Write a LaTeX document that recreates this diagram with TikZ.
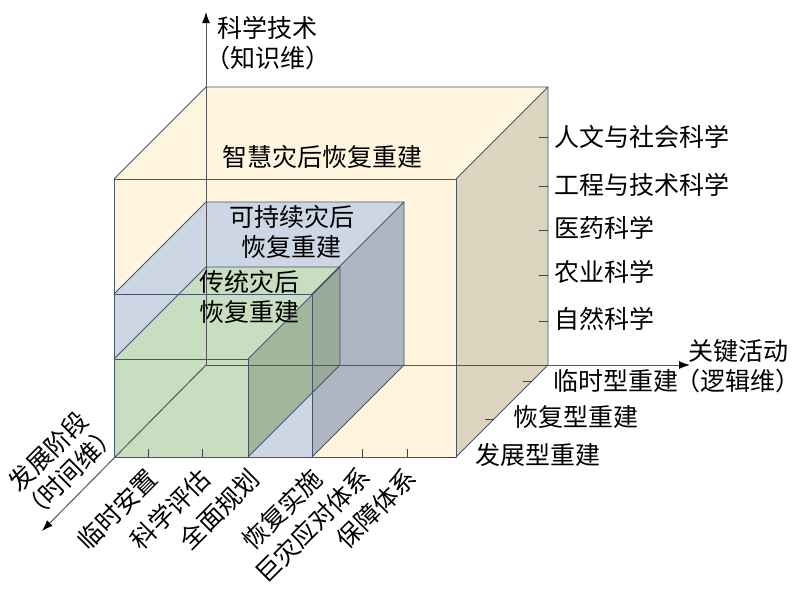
\documentclass[tikz,border=0pt]{standalone}
\usepackage{fontspec}
\setmainfont{Noto Sans CJK SC}
\usetikzlibrary{arrows.meta}
\definecolor{cream}{HTML}{FFF5DF}
\definecolor{tan}{HTML}{DBD5C0}
\definecolor{lblue}{HTML}{CDD6E5}
\definecolor{gblue}{HTML}{AFB6C2}
\definecolor{lgreen}{HTML}{C8DEC1}
\definecolor{dgreen}{HTML}{A3B59A}
\definecolor{mixgreen}{HTML}{99A99A}
\definecolor{edgec}{HTML}{44546A}
\definecolor{axisc}{HTML}{555555}
\definecolor{tickc}{HTML}{404040}
\begin{document}
\begin{tikzpicture}[x=1pt,y=-1pt,
  edge/.style={draw=edgec, line width=0.8pt, line join=round},
  axisline/.style={draw=axisc, line width=1pt, -{Latex[length=11pt,width=8pt,color=black]}},
  tickline/.style={draw=tickc, line width=0.8pt},
  lbl/.style={inner sep=0pt, font=\fontsize{25}{30}\selectfont, align=center},
  face/.style={draw=none}]
\useasboundingbox (0,0) rectangle (801,590);
% corners
\coordinate (O) at (206,365);
\coordinate (YF1) at (114,179); \coordinate (YF2) at (456,179);
\coordinate (YF3) at (456,457); \coordinate (YF4) at (114,457);
\coordinate (YB1) at (206,87);  \coordinate (YB2) at (548,87);
\coordinate (YB3) at (548,365);
\coordinate (BF1) at (114,294); \coordinate (BF2) at (312,294);
\coordinate (BF3) at (312,457);
\coordinate (BB1) at (206,202); \coordinate (BB2) at (404,202);
\coordinate (BB3) at (404,365);
\coordinate (GF1) at (114,359); \coordinate (GF2) at (248,359);
\coordinate (GF3) at (248,457);
\coordinate (GB1) at (206,267); \coordinate (GB2) at (340,267);
\coordinate (GB3) at (340,365);
\coordinate (OV1) at (312,295); \coordinate (OV2) at (312,393);
% faces
\fill[cream] (YF1) -- (YB1) -- (YB2) -- (YF2) -- cycle;
\fill[tan] (YF2) -- (YB2) -- (YB3) -- (YF3) -- cycle;
\fill[cream] (YF1) -- (YF2) -- (YF3) -- (YF4) -- cycle;
\fill[lblue] (BF1) -- (BB1) -- (BB2) -- (BF2) -- cycle;
\fill[gblue] (BF2) -- (BB2) -- (BB3) -- (BF3) -- cycle;
\fill[lblue] (BF1) -- (BF2) -- (BF3) -- (YF4) -- cycle;
\fill[lgreen] (GF1) -- (GB1) -- (GB2) -- (GF2) -- cycle;
\fill[dgreen] (GF2) -- (GB2) -- (GB3) -- (GF3) -- cycle;
\fill[mixgreen] (OV1) -- (GB2) -- (GB3) -- (OV2) -- cycle;
\fill[lgreen] (GF1) -- (GF2) -- (GF3) -- (YF4) -- cycle;
% edges
\draw[edge] (YF1) -- (YF2) -- (YF3) -- (YF4) -- cycle;
\draw[edge] (YF1) -- (YB1) -- (YB2) -- (YF2);
\draw[edge] (YB2) -- (YB3) -- (YF3);
\draw[edge] (BF1) -- (BF2) -- (BF3);
\draw[edge] (BF1) -- (BB1) -- (BB2) -- (BF2);
\draw[edge] (BB2) -- (BB3) -- (BF3);
\draw[edge] (GF1) -- (GF2) -- (GF3);
\draw[edge] (GF1) -- (GB1) -- (GB2) -- (GF2);
\draw[edge] (GB2) -- (GB3) -- (GF3);
% axes
\coordinate (AV) at (206,12);
\coordinate (AH) at (690,365);
\coordinate (AD) at (42,531);
\draw[axisline] (O) -- (AV);
\draw[axisline] (O) -- (AH);
\draw[axisline] (O) -- (AD);
% ticks on right back edge
\foreach \y/\n in {137/ta,186/tb,230/tc,275/td,321/te}{
  \coordinate (\n1) at (539,\y); \coordinate (\n2) at (548,\y);
  \draw[tickline] (\n1) -- (\n2);
}
% ticks on bottom front edge
\foreach \x/\n in {148/ba,202/bb,362/bc,407/bd}{
  \coordinate (\n1) at (\x,449); \coordinate (\n2) at (\x,457);
  \draw[tickline] (\n1) -- (\n2);
}
% ticks on depth edge
\foreach \x/\y/\n in {532/381/da,494/419/db,456/457/dc}{
  \coordinate (\n2) at (\x,\y); \coordinate (\n1) at ({\x-9},\y);
  \draw[tickline] (\n1) -- (\n2);
}
% axis labels
\node[lbl] (lv) at (267.5,43) {科学技术\\（知识维）};
\node[lbl] (lh) at (738,366) {关键活动\\（逻辑维）};
\node[lbl, rotate=45] (ld) at (59,462) {发展阶段\\（时间维）};
% box labels
\node[lbl] (smart) at (322,157) {智慧灾后恢复重建};
\node[lbl] (sust) at (291.5,231.5) {可持续灾后\\恢复重建};
\node[lbl] (trad) at (249,297) {传统灾后\\恢复重建};
% knowledge labels
\node[lbl, anchor=west] (k1) at (554,137) {人文与社会科学};
\node[lbl, anchor=west] (k2) at (554,185) {工程与技术科学};
\node[lbl, anchor=west] (k3) at (554,228) {医药科学};
\node[lbl, anchor=west] (k4) at (554,272) {农业科学};
\node[lbl, anchor=west] (k5) at (554,319) {自然科学};
% logic labels
\node[lbl, anchor=west] (g1) at (553,381) {临时型重建};
\node[lbl, anchor=west] (g2) at (513,417) {恢复型重建};
\node[lbl, anchor=west] (g3) at (475,455) {发展型重建};
% time labels
\node[lbl, rotate=45, anchor=east] (t1) at (153,474) {临时安置};
\node[lbl, rotate=45, anchor=east] (t2) at (206,474) {科学评估};
\node[lbl, rotate=45, anchor=east] (t3) at (255,474) {全面规划};
\node[lbl, rotate=45, anchor=east] (t4) at (318,474) {恢复实施};
\node[lbl, rotate=45, anchor=east] (t5) at (366,472) {巨灾应对体系};
\node[lbl, rotate=45, anchor=east] (t6) at (412,473) {保障体系};
\end{tikzpicture}
\end{document}
